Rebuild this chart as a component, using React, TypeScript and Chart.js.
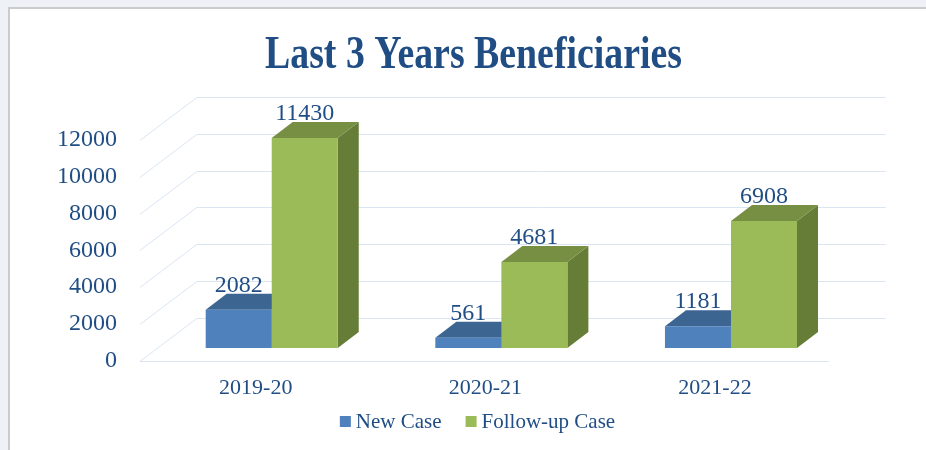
import React, { useEffect, useRef } from "react";
import { Chart, registerables } from "chart.js";
Chart.register(...registerables);

const categories = ["2019-20", "2020-21", "2021-22"];
const newCase = [2082, 561, 1181];
const followUp = [11430, 4681, 6908];
const yTicks = [0, 2000, 4000, 6000, 8000, 10000, 12000];
const seriesNames = ["New Case", "Follow-up Case"];
const titleText = "Last 3 Years Beneficiaries";

const BLUE = { front: "#4f81bd", top: "#3c6591", side: "#3a5f8a" };
const GREEN = { front: "#9bbb59", top: "#778f43", side: "#667d37" };
const PALS = [BLUE, GREEN];
const TEXT = "#1f4d84";
const GRID = "#dae5f2";
const FONT = "'Liberation Serif', 'DejaVu Serif', serif";

const DX = 21;
const DY = 16;
const FRONT = { dx: -17, dy: 12.5 };
const BACK = { dx: 40, dy: -30.5 };

const threeD = {
  id: "threeD",
  beforeDatasetsDraw(chart: any) {
    const ctx = chart.ctx;
    const { left, right } = chart.chartArea;
    const ys = chart.scales.y;
    ctx.save();
    ctx.strokeStyle = GRID;
    ctx.lineWidth = 1;
    yTicks.forEach((v) => {
      const p = ys.getPixelForValue(v);
      const fy = Math.round(p + FRONT.dy) + 0.5;
      const by = Math.round(p + BACK.dy) + 0.5;
      ctx.beginPath();
      ctx.moveTo(left + FRONT.dx, fy);
      ctx.lineTo(left + BACK.dx, by);
      ctx.lineTo(right + BACK.dx, by);
      ctx.stroke();
    });
    const z = Math.round(ys.getPixelForValue(0) + FRONT.dy) + 0.5;
    ctx.beginPath();
    ctx.moveTo(left + FRONT.dx, z);
    ctx.lineTo(right + FRONT.dx, z);
    ctx.stroke();

    chart.data.datasets.forEach((_ds: any, di: number) => {
      const meta = chart.getDatasetMeta(di);
      const pal = PALS[di];
      meta.data.forEach((bar: any) => {
        const { x, y, base, width } = bar.getProps(["x", "y", "base", "width"], true);
        const x0 = x - width / 2;
        const x1 = x + width / 2;
        ctx.fillStyle = pal.side;
        ctx.beginPath();
        ctx.moveTo(x1, y);
        ctx.lineTo(x1 + DX, y - DY);
        ctx.lineTo(x1 + DX, base - DY);
        ctx.lineTo(x1, base);
        ctx.closePath();
        ctx.fill();
        ctx.fillStyle = pal.top;
        ctx.beginPath();
        ctx.moveTo(x0, y);
        ctx.lineTo(x0 + DX, y - DY);
        ctx.lineTo(x1 + DX, y - DY);
        ctx.lineTo(x1, y);
        ctx.closePath();
        ctx.fill();
      });
    });
    ctx.restore();
  },
  afterDatasetsDraw(chart: any) {
    const ctx = chart.ctx;
    ctx.save();
    ctx.fillStyle = TEXT;
    ctx.font = `24px ${FONT}`;
    ctx.textAlign = "center";
    ctx.textBaseline = "alphabetic";
    chart.data.datasets.forEach((ds: any, di: number) => {
      const meta = chart.getDatasetMeta(di);
      meta.data.forEach((bar: any, i: number) => {
        const { x, y } = bar.getProps(["x", "y"], true);
        ctx.fillText(String(ds.data[i]), x, y - 18);
      });
    });
    ctx.restore();
  },
  afterDraw(chart: any) {
    const ctx = chart.ctx;
    ctx.save();
    ctx.fillStyle = TEXT;
    ctx.font = `bold 47px ${FONT}`;
    const tw = ctx.measureText(titleText).width;
    ctx.translate(473.5, 67.7);
    ctx.scale(417 / tw, 1);
    ctx.textAlign = "center";
    ctx.textBaseline = "alphabetic";
    ctx.fillText(titleText, 0, 0);
    ctx.setTransform(1, 0, 0, 1, 0, 0);
    ctx.font = `21px ${FONT}`;
    ctx.textAlign = "left";
    const box = 11, gap = 5, itemGap = 24;
    const widths = seriesNames.map((n) => box + gap + ctx.measureText(n).width);
    const total = widths.reduce((a, b) => a + b, 0) + itemGap * (widths.length - 1);
    let lx = 477.5 - total / 2;
    seriesNames.forEach((n, i) => {
      ctx.fillStyle = PALS[i].front;
      ctx.fillRect(lx, 416, box, box);
      ctx.fillStyle = TEXT;
      ctx.fillText(n, lx + box + gap, 428.3);
      lx += widths[i] + itemGap;
    });
    ctx.restore();
  },
};

export default function App() {
  const ref = useRef<HTMLCanvasElement | null>(null);
  useEffect(() => {
    if (!ref.current) return;
    const chart = new Chart(ref.current, {
      type: "bar",
      data: {
        labels: categories,
        datasets: [
          { label: seriesNames[0], data: newCase, backgroundColor: BLUE.front, borderWidth: 0, barPercentage: 1, categoryPercentage: 0.575 },
          { label: seriesNames[1], data: followUp, backgroundColor: GREEN.front, borderWidth: 0, barPercentage: 1, categoryPercentage: 0.575 },
        ],
      },
      options: {
        responsive: false,
        animation: false,
        devicePixelRatio: 1,
        layout: { padding: { left: 0, top: 127.5, right: 80.2, bottom: 0 } },
        plugins: { legend: { display: false }, title: { display: false }, tooltip: { enabled: false } },
        scales: {
          x: {
            grid: { display: false, drawTicks: false },
            border: { display: false },
            ticks: { color: TEXT, font: { family: FONT, size: 22 }, padding: 27, labelOffset: -16, maxRotation: 0 },
            afterFit: (s: any) => { s.height = 102; },
          },
          y: {
            min: 0,
            max: 12000,
            grid: { display: false, drawTicks: false },
            border: { display: false },
            ticks: {
              stepSize: 2000,
              color: TEXT,
              font: { family: FONT, size: 24 },
              padding: 40,
              labelOffset: 12.5,
              callback: (v: any) => String(v),
            },
            afterFit: (s: any) => { s.width = 156.9; },
          },
        },
      },
      plugins: [threeD],
    });
    return () => chart.destroy();
  }, []);
  return (
    <div style={{ position: "fixed", left: 0, top: 0, width: 926, height: 450, background: "#eef2f7", overflow: "hidden" }}>
      <div style={{ position: "absolute", left: 8, top: 7, right: 0, bottom: 0, background: "#ffffff", borderTop: "2px solid #cbcbcb", borderLeft: "2px solid #cbcbcb" }} />
      <canvas ref={ref} width={926} height={450} style={{ position: "absolute", left: 0, top: 0, width: 926, height: 450 }} />
    </div>
  );
}
